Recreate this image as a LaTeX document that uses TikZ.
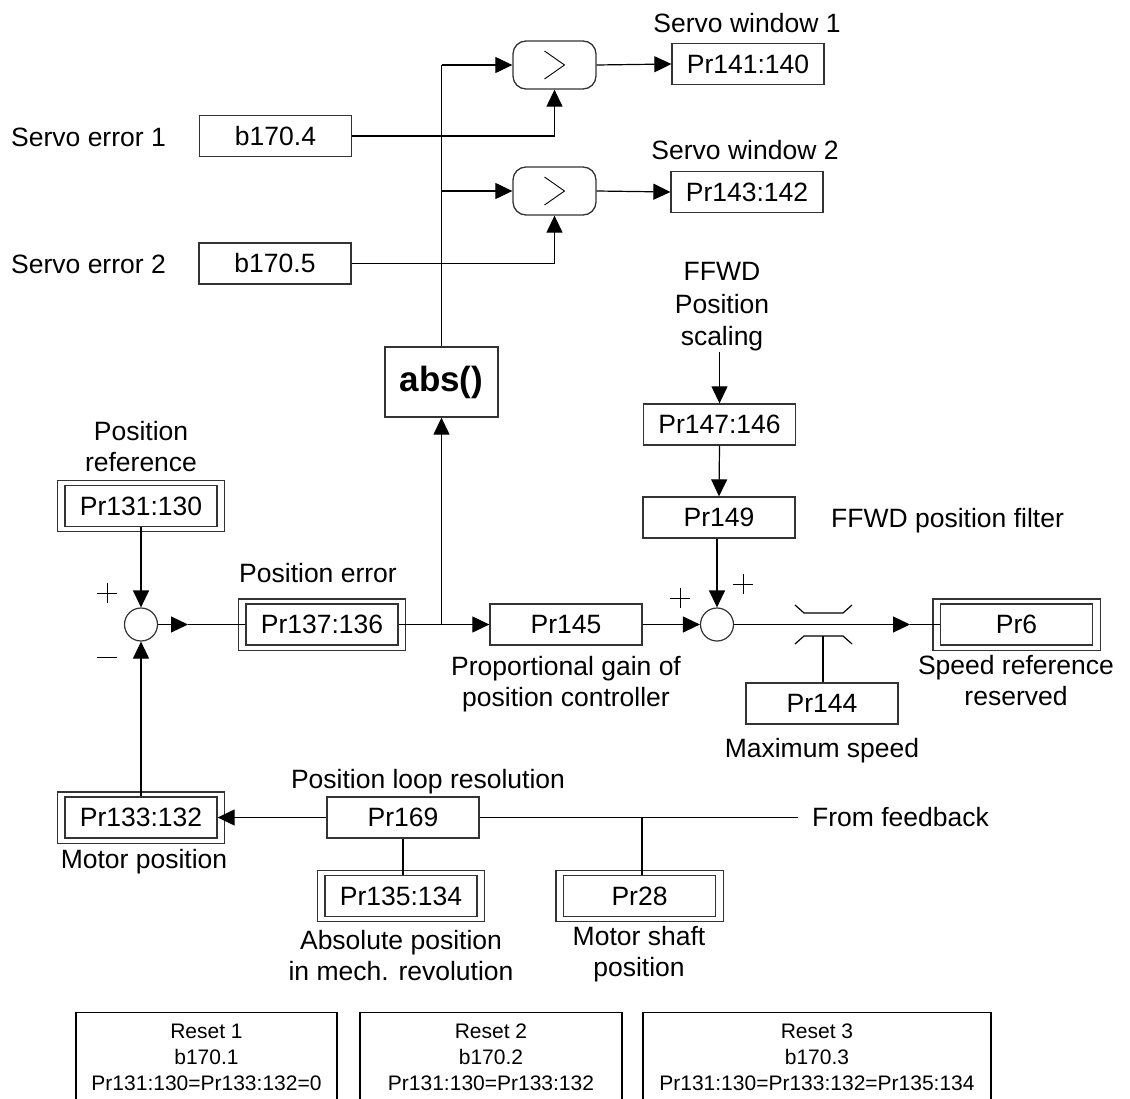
\documentclass[tikz,border=0pt]{standalone}
\usepackage{fontspec}
\setmainfont{Liberation Sans}
\usetikzlibrary{arrows.meta,calc}
\begin{document}
\begin{tikzpicture}[x=1pt,y=-1pt,
  font=\fontsize{26.5}{31}\selectfont,
  conn/.style={line width=1.2pt,black},
  arr/.style={conn,-{Triangle[length=17pt,width=16pt]}},
  box/.style={draw=black!80,line width=1.3pt,minimum width=152pt,minimum height=41pt,inner sep=0pt,fill=white},
  frame/.style={draw=black!80,line width=1.3pt},
  lbl/.style={inner sep=0pt,text height=19pt,text depth=0pt},
  mlbl/.style={inner sep=0pt,align=center},
  cmp/.style={draw=black!80,line width=1.3pt,rounded corners=13pt,minimum width=83pt,minimum height=48pt,inner sep=0pt},
  sum/.style={draw=black!80,line width=1.2pt,circle,minimum size=33pt,inner sep=0pt},
  signline/.style={line width=0.9pt,black},
  rbox/.style={draw=black,line width=1.3pt,anchor=north,minimum height=90pt,inner sep=0pt,align=center,font=\fontsize{21}{26}\selectfont},
]
\useasboundingbox (0,0) rectangle (1130,1099);

% ---- boxes ----
\node[box] (pr141) at (748,64) {Pr141:140};
\node[box] (pr143) at (747,192) {Pr143:142};
\node[cmp] (cmp1) at (554.5,65) {};
\node[cmp] (cmp2) at (554.5,191) {};
\node[box] (b1704) at (275.5,136) {b170.4};
\node[box] (b1705) at (275,263.5) {b170.5};
\node[box,minimum width=113pt,minimum height=70pt,font=\fontsize{35}{40}\selectfont\bfseries] (abs) at (441.5,382) {abs()};
\node[box] (pr131) at (141,506) {Pr131:130};
\node[sum] (c1) at (141,624.5) {};
\node[box] (pr137) at (322,624.5) {Pr137:136};
\node[box] (pr145) at (566,624.5) {Pr145};
\node[sum] (c2) at (717,624.5) {};
\node[box] (pr147) at (719.5,424.5) {Pr147:146};
\node[box] (pr149) at (719,517.5) {Pr149};
\node[box] (pr144) at (822,703.5) {Pr144};
\node[box] (pr6) at (1016.5,624.5) {Pr6};
\node[box] (pr133) at (141,817.5) {Pr133:132};
\node[box] (pr169) at (403,817.5) {Pr169};
\node[box] (pr135) at (401,896) {Pr135:134};
\node[box] (pr28) at (639.5,896) {Pr28};

% double frames
\foreach \n in {pr131,pr137,pr6,pr133,pr135,pr28}
  \draw[frame] ([shift={(-7pt,4.5pt)}]\n.north west) rectangle ([shift={(7pt,-4.5pt)}]\n.south east);

% comparator symbols
\foreach \n in {cmp1,cmp2}
  \draw[signline] ([shift={(-10pt,14pt)}]\n.center) -- ([shift={(10pt,0pt)}]\n.center) -- ([shift={(-10pt,-14pt)}]\n.center);

% ---- labels ----
\node[lbl] (sw1) at (747,23) {Servo window 1};
\node[lbl] (sw2) at (745,150) {Servo window 2};
\node[lbl,anchor=west] (se1) at (11,137) {Servo error 1};
\node[lbl,anchor=west] (se2) at (11,264) {Servo error 2};
\node[mlbl,font=\fontsize{26.5}{32.5}\selectfont] (ffwd) at (722,307) {FFWD\\Position\\scaling};
\node[lbl,anchor=west] (ffwdf) at (831,518) {FFWD position filter};
\node[mlbl] (posref) at (141,447) {Position\\reference};
\node[lbl] (poserr) at (318,573) {Position error};
\node[mlbl] (propg) at (566,684) {Proportional gain of\\position controller};
\node[lbl] (maxsp) at (822,748) {Maximum speed};
\node[mlbl] (spref) at (1016,681) {Speed reference\\reserved};
\node[lbl] (plr) at (428,779) {Position loop resolution};
\node[lbl,anchor=west] (fromfb) at (812,817) {From feedback};
\node[lbl] (motpos) at (144,859) {Motor position};
\node[mlbl] (abspos) at (401,956) {Absolute position\\in mech. revolution};
\node[mlbl] (motsh) at (639,954) {Motor shaft\\position};

% plus / minus signs
\draw[signline] (97,593) -- (117,593) (107,583) -- (107,603);
\draw[signline] (97,657) -- (117,657);
\draw[signline] (670,598) -- (690,598) (680,588) -- (680,608);
\draw[signline] (733,584) -- (753,584) (743,574) -- (743,594);

% ---- connectors ----
\coordinate (v1) at (441.5,65);
\coordinate (v2) at (441.5,191);
\coordinate (j1) at (441.5,624.5);
\draw[conn] (abs.north) -- (v1);
\draw[arr] (v1) -- (cmp1.west);
\draw[arr] (v2) -- (cmp2.west);
\draw[arr] (b1704.east) -| (cmp1.south);
\draw[arr] (b1705.east) -| (cmp2.south);
\draw[arr] (cmp1.east) -- (pr141.west);
\draw[arr] (cmp2.east) -- (pr143.west);
\draw[arr] (pr131.south) -- (c1.north);
\draw[arr] (pr133.north) -- (c1.south);
\coordinate (m1) at (188,624.5);
\draw[arr] (c1.east) -- (m1);
\draw[conn] (m1) -- (pr137.west);
\draw[conn] (pr137.east) -- (j1);
\draw[arr] (j1) -- (pr145.west);
\draw[arr] (j1) -- (abs.south);
\draw[arr] (pr145.east) -- (c2.west);
\draw[arr] (ffwd.south -| pr147.north) -- (pr147.north);
\draw[arr] (pr147.south) -- (pr149.north);
\draw[arr] (pr149.south -| c2.north) -- (c2.north);
\coordinate (m2) at (910,624.5);
\draw[arr] (c2.east) -- (m2);
\draw[conn] (m2) -- (pr6.west);

% limiter
\draw[conn] (795,605) -- (804,613) -- (843,613) -- (852,605);
\draw[conn] (795,644) -- (804,636) -- (843,636) -- (852,644);
\coordinate (lim) at (823,636);
\draw[conn] (lim) -- (lim |- pr144.north);

% feedback
\draw[arr] (pr169.west) -- (pr133.east);
\coordinate (fb) at (798,817.5);
\draw[conn] (pr169.east) -- (fb);
\draw[conn] (pr169.south) -- (pr169.south |- pr135.north);
\coordinate (t28) at (642,817.5);
\draw[conn] (t28) -- (t28 |- pr28.north);

% reset boxes
\node[rbox,minimum width=261pt] (r1) at (206.5,1012) {Reset 1\\b170.1\\Pr131:130=Pr133:132=0};
\node[rbox,minimum width=262pt] (r2) at (491,1012) {Reset 2\\b170.2\\Pr131:130=Pr133:132};
\node[rbox,minimum width=348pt] (r3) at (817,1012) {Reset 3\\b170.3\\Pr131:130=Pr133:132=Pr135:134};
\end{tikzpicture}
\end{document}
